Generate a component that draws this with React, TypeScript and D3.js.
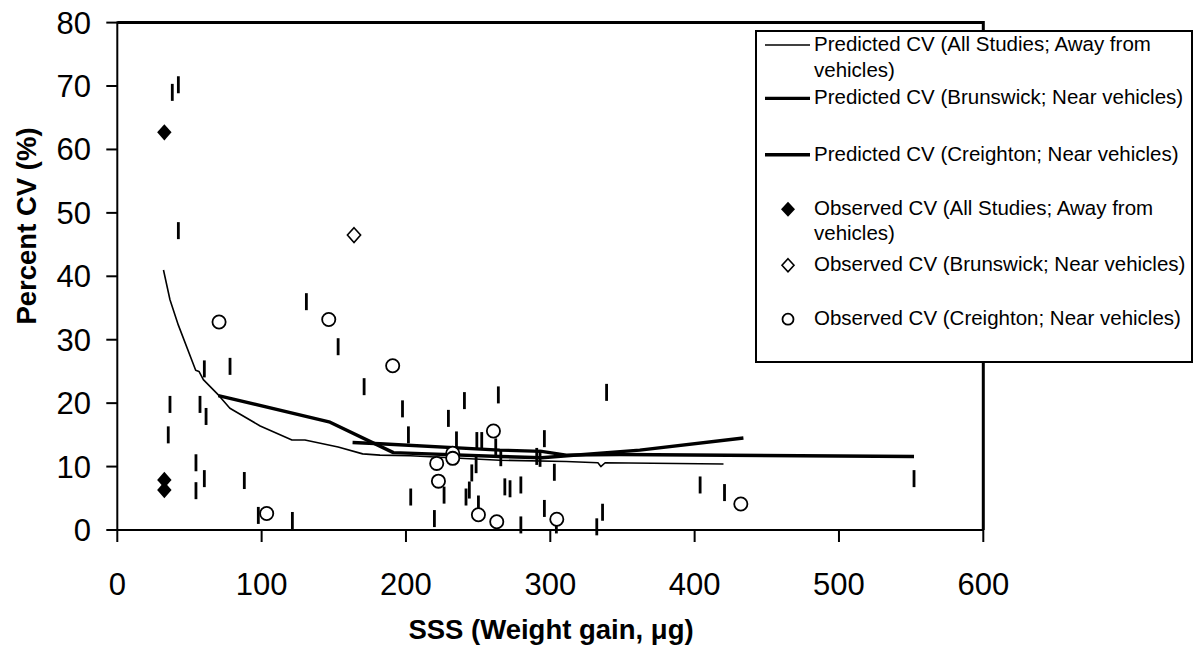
import React, { useEffect, useRef } from "react";
import * as d3 from "d3";

// ---------- data ----------
const xTicks = [0, 100, 200, 300, 400, 500, 600];
const yTicks = [0, 10, 20, 30, 40, 50, 60, 70, 80];

const predictedAll: [number, number][] = [
  [32, 41.0], [36.5, 36.3], [42.3, 32.3], [54.3, 25.2], [56.6, 25.0], [59.6, 23.7],
  [70, 21.3], [78, 19.2], [99, 16.4], [121, 14.2], [130, 14.2], [153, 13.1],
  [170, 12.0], [182, 11.8], [203, 11.7], [265, 11.0], [311, 10.8], [333, 10.6],
  [335, 10.0], [338, 10.6], [420, 10.4],
];
const predictedCreighton: [number, number][] = [
  [70, 21.2], [147.4, 17.0], [191.3, 12.2], [265, 11.6], [294, 11.4], [362, 12.6], [433.8, 14.5],
];
const predictedBrunswick: [number, number][] = [
  [163, 13.8], [182, 13.6], [265, 12.6], [294, 12.4], [311, 11.8], [348, 11.9], [552, 11.6],
];
const observedAll: [number, number][] = [[32.6, 62.7], [32.6, 7.9], [32.6, 6.3]];
const observedBrunswick: [number, number][] = [[164, 46.5]];
const observedCreighton: [number, number][] = [
  [70.5, 32.8], [103.5, 2.6], [146.5, 33.2], [190.8, 25.9], [221.3, 10.5], [222.5, 7.7],
  [232.4, 12.1], [232.4, 11.3], [250.2, 2.4], [260.6, 15.6], [262.9, 1.3], [304.5, 1.7], [432, 4.1],
];
const otherObserved: [number, number][] = [
  [38.1, 69.0], [42.3, 70.2], [42.3, 47.2], [131, 36.0], [153, 28.9], [171, 22.6],
  [60.3, 25.4], [78.1, 25.8], [36.5, 19.8], [57.3, 19.8], [61.5, 17.9], [35.3, 15.0],
  [54.5, 10.6], [60.3, 8.1], [88, 7.8], [54.5, 6.2], [97.7, 2.3], [121.3, 1.5],
  [197.6, 19.1], [201.7, 15.0], [229.4, 17.6], [240.5, 20.4], [264, 21.3], [235, 14.2],
  [249.1, 14.1], [252.5, 14.1], [262.2, 13.1], [265.7, 11.4], [248.6, 10.3], [245.6, 9.0],
  [243.9, 6.3], [241.6, 5.2], [226.4, 5.5], [203.3, 5.2], [219.7, 1.8], [250.2, 4.1],
  [268.5, 6.8], [272.1, 6.5], [279.6, 7.1], [279.6, 0.8],
  [339, 21.7], [295.9, 14.4], [290.6, 11.6], [292.9, 11.3], [302.8, 9.1], [295.9, 3.4],
  [304.2, 0.8], [332.2, 0.5], [336.2, 2.8], [403.8, 7.1], [420.7, 5.9], [552, 8.1],
];

const legendLabels: string[][] = [
  ["Predicted CV (All Studies; Away from", "vehicles)"],
  ["Predicted CV (Brunswick; Near vehicles)"],
  ["Predicted CV (Creighton; Near vehicles)"],
  ["Observed CV (All Studies; Away from", "vehicles)"],
  ["Observed CV (Brunswick; Near vehicles)"],
  ["Observed CV (Creighton; Near vehicles)"],
];
const legendKinds = ["thin", "thick", "thick", "filledDiamond", "openDiamond", "circle"];

const xTitle = "SSS (Weight gain, \u03bcg)";
const yTitle = "Percent CV (%)";

const FONT = "'Liberation Sans', Arial, Helvetica, sans-serif";

export default function App() {
  const ref = useRef<SVGSVGElement>(null);

  useEffect(() => {
    const svg = d3.select(ref.current);
    svg.selectAll("*").remove();

    const x = d3.scaleLinear().domain([0, 600]).range([117.3, 983.3]);
    const y = d3.scaleLinear().domain([0, 80]).range([530, 22.6]);

    svg.append("rect").attr("width", 1199).attr("height", 649).attr("fill", "#fff");

    // frame (top & right)
    svg.append("path")
      .attr("d", `M${x(0)},${y(80)} H${x(600)} V${y(0)}`)
      .attr("fill", "none").attr("stroke", "#000").attr("stroke-width", 3);

    // axes
    svg.append("line").attr("x1", x(0)).attr("x2", x(0)).attr("y1", y(80) - 1).attr("y2", y(0))
      .attr("stroke", "#000").attr("stroke-width", 2);
    svg.append("line").attr("x1", x(0)).attr("x2", x(600)).attr("y1", y(0)).attr("y2", y(0))
      .attr("stroke", "#000").attr("stroke-width", 2);

    const gy = svg.append("g");
    yTicks.forEach((t) => {
      gy.append("line").attr("x1", x(0) - 11).attr("x2", x(0)).attr("y1", y(t)).attr("y2", y(t))
        .attr("stroke", "#000").attr("stroke-width", 2);
      gy.append("text").attr("x", 91).attr("y", y(t) + 11).attr("text-anchor", "end")
        .attr("font-family", FONT).attr("font-size", 31).text(String(t));
    });
    const gx = svg.append("g");
    xTicks.forEach((t) => {
      gx.append("line").attr("x1", x(t)).attr("x2", x(t)).attr("y1", y(0)).attr("y2", y(0) + 12)
        .attr("stroke", "#000").attr("stroke-width", 2);
      gx.append("text").attr("x", x(t)).attr("y", 595).attr("text-anchor", "middle")
        .attr("font-family", FONT).attr("font-size", 31).text(String(t));
    });

    svg.append("text").attr("x", 551).attr("y", 639).attr("text-anchor", "middle")
      .attr("font-family", FONT).attr("font-size", 27.5).attr("font-weight", "bold").text(xTitle);
    svg.append("text").attr("transform", `translate(36,226) rotate(-90)`).attr("text-anchor", "middle")
      .attr("font-family", FONT).attr("font-size", 27.5).attr("font-weight", "bold").text(yTitle);

    const line = d3.line<[number, number]>().x((d) => x(d[0])).y((d) => y(d[1]));
    svg.append("path").attr("d", line(predictedAll)).attr("fill", "none")
      .attr("stroke", "#000").attr("stroke-width", 1.6).attr("stroke-linejoin", "round");
    svg.append("path").attr("d", line(predictedBrunswick)).attr("fill", "none")
      .attr("stroke", "#000").attr("stroke-width", 3.4).attr("stroke-linejoin", "round");
    svg.append("path").attr("d", line(predictedCreighton)).attr("fill", "none")
      .attr("stroke", "#000").attr("stroke-width", 3.4).attr("stroke-linejoin", "round");

    // vertical dash markers
    svg.append("g").selectAll("rect").data(otherObserved).join("rect")
      .attr("x", (d) => x(d[0]) - 1.4).attr("y", (d) => y(d[1]) - 8.5)
      .attr("width", 2.8).attr("height", 17).attr("fill", "#000");

    const diamond = (cx: number, cy: number, hw = 7.2, hh = 8.2) =>
      `M${cx},${cy - hh} L${cx + hw},${cy} L${cx},${cy + hh} L${cx - hw},${cy} Z`;

    svg.append("g").selectAll("path").data(observedAll).join("path")
      .attr("d", (d) => diamond(x(d[0]), y(d[1]))).attr("fill", "#000");
    svg.append("g").selectAll("path").data(observedBrunswick).join("path")
      .attr("d", (d) => diamond(x(d[0]), y(d[1]), 6.6, 7.4)).attr("fill", "#fff")
      .attr("stroke", "#000").attr("stroke-width", 1.6);
    svg.append("g").selectAll("circle").data(observedCreighton).join("circle")
      .attr("cx", (d) => x(d[0])).attr("cy", (d) => y(d[1])).attr("r", 6.6)
      .attr("fill", "#fff").attr("stroke", "#000").attr("stroke-width", 1.8);

    // legend
    const lg = svg.append("g");
    lg.append("rect").attr("x", 756).attr("y", 31).attr("width", 436).attr("height", 331)
      .attr("fill", "#fff").attr("stroke", "#000").attr("stroke-width", 2);
    const baselines = [51, 104.4, 160.7, 214.7, 270.7, 324.7];
    legendLabels.forEach((lines, i) => {
      const b = baselines[i];
      const cy = b - 5;
      const kind = legendKinds[i];
      if (kind === "thin" || kind === "thick") {
        lg.append("line").attr("x1", 765).attr("x2", 810).attr("y1", cy - 1).attr("y2", cy - 1)
          .attr("stroke", "#000").attr("stroke-width", kind === "thin" ? 1.6 : 3.4);
      } else if (kind === "filledDiamond") {
        lg.append("path").attr("d", diamond(788, cy - 0.5, 7, 7.5)).attr("fill", "#000");
      } else if (kind === "openDiamond") {
        lg.append("path").attr("d", diamond(788, cy - 0.5, 6, 6.5)).attr("fill", "#fff")
          .attr("stroke", "#000").attr("stroke-width", 1.6);
      } else {
        lg.append("circle").attr("cx", 788).attr("cy", cy - 0.5).attr("r", 5.5)
          .attr("fill", "#fff").attr("stroke", "#000").attr("stroke-width", 1.8);
      }
      lines.forEach((t, j) => {
        lg.append("text").attr("x", 814).attr("y", b + j * 25.7)
          .attr("font-family", FONT).attr("font-size", 20.5).text(t);
      });
    });
  }, []);

  return (
    <svg
      ref={ref}
      width={1199}
      height={649}
      style={{ position: "absolute", left: 0, top: 0, display: "block" }}
    />
  );
}
